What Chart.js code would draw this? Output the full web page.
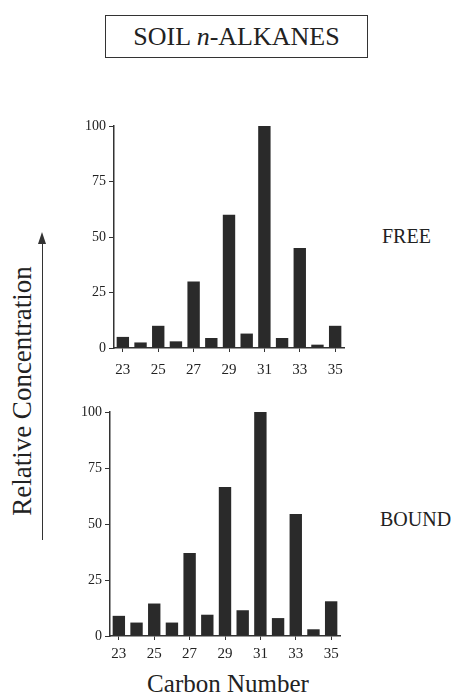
<!DOCTYPE html>
<html>
<head>
<meta charset="utf-8">
<script src="https://cdn.jsdelivr.net/npm/chart.js@4"></script>
<style>
  body { margin: 0; background: #fff; font-family: "Liberation Serif", "DejaVu Serif", serif; color: #222; }
  #page { position: relative; width: 453px; height: 698px; overflow: hidden; }
  .abs { position: absolute; }
  #title { left: 105px; top: 15px; width: 261px; height: 41px; border: 1.5px solid #333;
    font-size: 26px; line-height: 41px; text-align: center; }
  .lbl { font-size: 20px; line-height: 24px; }
  #ylab { left: -113px; top: 375px; width: 270px; text-align: center; font-size: 27px; line-height: 32px;
    transform: rotate(-90deg); transform-origin: center; }
  #arrow { left: 42px; top: 240px; width: 1.2px; height: 300px; background: #333; }
  #arrowhead { left: 38px; top: 232px; width: 0; height: 0; border-left: 4.5px solid transparent;
    border-right: 4.5px solid transparent; border-bottom: 12px solid #333; }
  #xlab { left: 113px; top: 670px; width: 230px; text-align: center; font-size: 25px; line-height: 28px; }
  canvas { position: absolute; }
</style>
</head>
<body>
<div id="page">
  <div id="title" class="abs">SOIL <i>n</i>-ALKANES</div>
  <div id="ylab" class="abs">Relative Concentration</div>
  <div id="arrow" class="abs"></div>
  <div id="arrowhead" class="abs"></div>
  <div class="abs lbl" style="left:382px; top:224px;">FREE</div>
  <div class="abs lbl" style="left:380px; top:507px;">BOUND</div>
  <div id="xlab" class="abs">Carbon Number</div>
  <div class="abs" style="left:61px; top:110px; width:300px; height:280px;"><canvas id="chart-free"></canvas></div>
  <div class="abs" style="left:57px; top:396px; width:300px; height:280px;"><canvas id="chart-bound"></canvas></div>
</div>
<script>
// Carbon numbers and relative concentrations
const carbonNumbers = ["23", "24", "25", "26", "27", "28", "29", "30", "31", "32", "33", "34", "35"];
const freeValues = [5, 2.5, 10, 3, 30, 4.5, 60, 6.5, 100, 4.5, 45, 1.5, 10];
const boundValues = [9, 6, 14.5, 6, 37, 9.5, 66.5, 11.5, 100, 8, 54.5, 3, 15.5];
const yTicks = [0, 25, 50, 75, 100];

const axisColor = "#333";

function makeChart(id, values, xAxisHeight, labelPad) {
  const ctx = document.getElementById(id);
  return new Chart(ctx, {
    type: "bar",
    data: {
      labels: carbonNumbers,
      datasets: [
        {
          data: values,
          backgroundColor: "#2a2a2a",
          borderWidth: 0,
          categoryPercentage: 1,
          barPercentage: 0.7,
        },
      ],
    },
    options: {
      responsive: true,
      maintainAspectRatio: false,
      animation: false,
      layout: { padding: { top: 16, right: 17 } },
      plugins: { legend: { display: false }, tooltip: { enabled: false } },
      scales: {
        x: {
          afterFit: (s) => { s.height = xAxisHeight; },
          border: { color: axisColor, width: 1.5 },
          grid: {
            offset: false,
            drawOnChartArea: false,
            tickLength: 4,
            color: (c) => (c.index % 2 === 0 ? axisColor : "rgba(0,0,0,0)"),
          },
          ticks: {
            color: "#222",
            font: { family: "Liberation Serif", size: 15 },
            padding: labelPad,
            maxRotation: 0,
            autoSkip: false,
            callback: (v, i) => (i % 2 === 0 ? carbonNumbers[i] : ""),
          },
        },
        y: {
          min: 0,
          max: 100,
          afterFit: (s) => { s.width = 53; },
          afterBuildTicks: (s) => { s.ticks = yTicks.map((v) => ({ value: v })); },
          border: { color: axisColor, width: 1.5 },
          grid: { drawOnChartArea: false, tickLength: 5, color: axisColor },
          ticks: { color: "#222", font: { family: "Liberation Serif", size: 14 }, padding: 3 },
        },
      },
    },
  });
}

makeChart("chart-free", freeValues, 42, 9);
makeChart("chart-bound", boundValues, 40, 5);
</script>
</body>
</html>
